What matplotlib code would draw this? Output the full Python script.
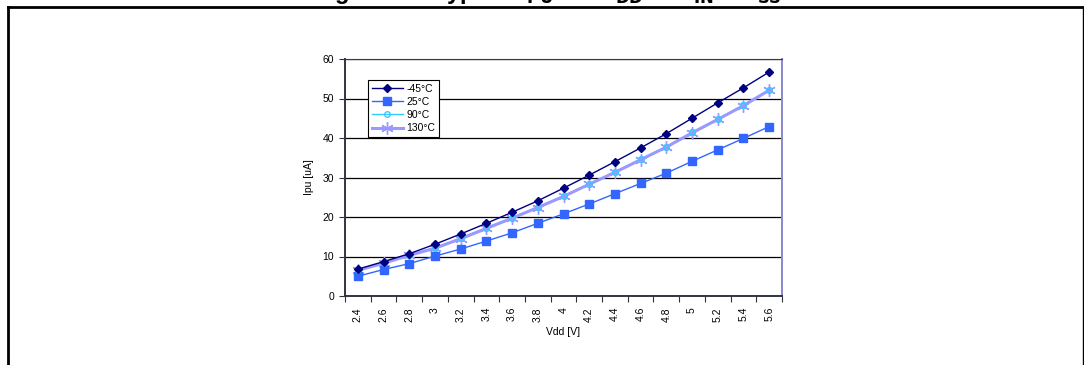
import numpy as np
import matplotlib
matplotlib.use('Agg')
import matplotlib.pyplot as plt
from matplotlib.lines import Line2D

plt.rcParams.update({'font.family': ['Liberation Sans', 'DejaVu Sans'], 'font.size': 7.5})

# Supply voltage categories (V)
vdd_labels = ['2.4', '2.6', '2.8', '3', '3.2', '3.4', '3.6', '3.8', '4',
              '4.2', '4.4', '4.6', '4.8', '5', '5.2', '5.4', '5.6']

# Pull-up current (uA) per temperature
ipu_m45 = [6.8, 8.7, 10.7, 13.1, 15.7, 18.4, 21.2, 24.1, 27.3,
           30.6, 34.0, 37.5, 41.1, 45.0, 48.9, 52.7, 56.7]
ipu_25 = [5.0, 6.7, 8.2, 10.1, 11.9, 13.9, 16.0, 18.4, 20.8,
          23.3, 25.9, 28.5, 31.1, 34.1, 37.0, 39.9, 42.9]
ipu_90 = [6.6, 8.4, 10.4, 12.2, 14.6, 17.3, 19.8, 22.5, 25.3,
          28.4, 31.4, 34.6, 37.8, 41.4, 44.8, 48.3, 52.2]
ipu_130 = [6.5, 8.3, 10.3, 12.1, 14.5, 17.1, 19.7, 22.4, 25.2,
           28.3, 31.3, 34.5, 37.7, 41.3, 44.7, 48.2, 52.1]

x = np.arange(len(vdd_labels))

fig = plt.figure(figsize=(10.84, 3.65), dpi=100)
ax = fig.add_axes([345 / 1084, 1 - 296 / 365, 437 / 1084, 237 / 365])

ax.plot(x, ipu_90, color='#33CCFF', lw=1, marker='o', ms=4, mfc='none',
        mec='#33CCFF', label='90°C', zorder=2)
ax.plot(x, ipu_130, color='#9999FF', lw=2.2, marker=(6, 2, 0), ms=9, mew=1.0,
        mec='#9999FF', label='130°C', zorder=3)
# 90°C markers sit on top of the 130°C line
ax.plot(x, ipu_90, ls='none', marker='o', ms=4, mfc='none', mec='#33CCFF', zorder=4)
ax.plot(x, ipu_25, color='#3366FF', lw=1, marker='s', ms=5.5,
        label='25°C', zorder=3)
ax.plot(x, ipu_m45, color='#000080', lw=1, marker='D', ms=4,
        label='-45°C', zorder=5)

ax.set_xlim(-0.5, len(vdd_labels) - 0.5)
ax.set_ylim(0, 60)
ax.set_yticks(np.arange(0, 61, 10))
ax.yaxis.grid(True, color='black', lw=0.9)
ax.set_axisbelow(True)

# category axis: ticks between categories, labels at centres
ax.set_xticks(np.arange(-0.5, len(vdd_labels), 1))
ax.set_xticklabels([])
ax.set_xticks(x, minor=True)
ax.set_xticklabels(vdd_labels, minor=True, rotation=90)
ax.tick_params(axis='x', which='minor', length=0, pad=8)
ax.tick_params(axis='x', which='major', length=4, direction='out', color='#333333')
ax.tick_params(axis='y', length=4, direction='out', color='#333333', pad=4)

ax.spines['left'].set_color('#333344')
ax.spines['bottom'].set_color('#333344')
ax.spines['left'].set_linewidth(1.4)
ax.spines['bottom'].set_linewidth(1.4)
ax.spines['top'].set_color('#333366')
ax.spines['right'].set_color('#8888CC')
ax.spines['right'].set_linewidth(1.4)

ax.set_xlabel('Vdd [V]', labelpad=4)
ax.set_ylabel('Ipu [uA]', labelpad=6)

handles, labels = ax.get_legend_handles_labels()
order = [3, 2, 0, 1]
leg = ax.legend([handles[i] for i in order], [labels[i] for i in order],
                loc='upper left', bbox_to_anchor=(0.04, 0.935), fancybox=False,
                edgecolor='black', framealpha=1, handlelength=3.0,
                borderpad=0.4, labelspacing=0.3, handletextpad=0.3)
leg.get_frame().set_linewidth(0.8)

# outer frame of the figure box
fig.add_artist(Line2D([8 / 1084, 1083 / 1084], [1 - 7 / 365] * 2,
                      transform=fig.transFigure, color='black', lw=2))
fig.add_artist(Line2D([8 / 1084] * 2, [0, 1 - 7 / 365],
                      transform=fig.transFigure, color='black', lw=2))
fig.add_artist(Line2D([1082.5 / 1084] * 2, [0, 1 - 7 / 365],
                      transform=fig.transFigure, color='black', lw=1))

# title cut off at the top of the picture (only its lower edge shows)
title = (r'Figure 12. Typical I$_{\mathbf{PU}}$ vs. V$_{\mathbf{DD}}$ at '
         r'V$_{\mathbf{IN}}$ = V$_{\mathbf{SS}}$')
fig.text(0.505, 1 + 1 / 365, title, ha='center', va='baseline',
         fontsize=17, fontweight='bold')

fig.savefig('out.png', dpi=100)
